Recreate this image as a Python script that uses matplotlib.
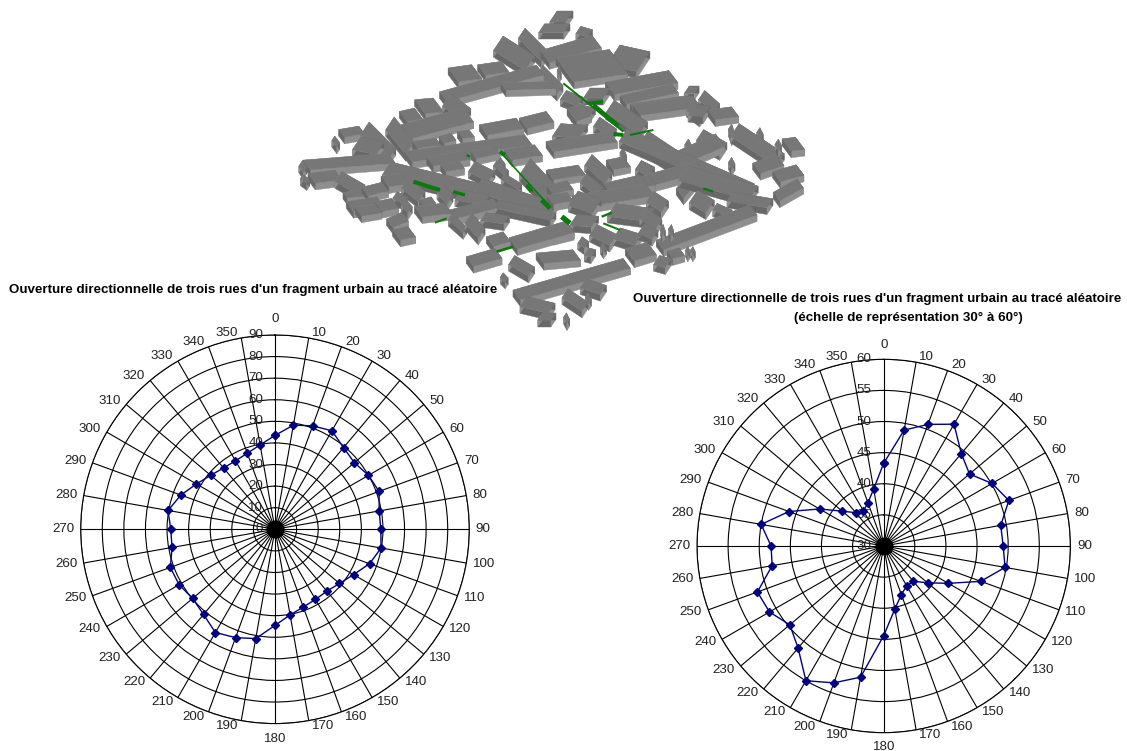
import math
import matplotlib
matplotlib.use('Agg')
import matplotlib.pyplot as plt

plt.rcParams['font.family'] = ['Liberation Sans', 'DejaVu Sans']

W, H = 1127, 751

# ------------------ DATA ------------------
angles = list(range(0, 360, 10))

left_ticks = [0, 10, 20, 30, 40, 50, 60, 70, 80, 90]
left_values = [43.5, 49, 51, 52.7, 49.4, 48, 50, 51.3, 49, 49, 49.9, 46.6,
               42, 39, 37.4, 37.5, 38.3, 40.3, 44.5, 51.4, 53.4, 55.2, 51.5, 49.8,
               51.3, 51.6, 48.4, 48.3, 50.3, 46.4, 42, 38.9, 37.1, 36.6, 37.5, 39.7]

right_ticks = [30, 35, 40, 45, 50, 55, 60]
right_values = [43.3, 48.9, 50.8, 52.6, 49.4, 48, 50.1, 51.4, 49.1, 49.2, 49.8, 46.6,
                42, 39.2, 37.4, 37.4, 38.3, 40.3, 44.4, 51.4, 53.4, 55, 51.4, 49.7,
                51.2, 51.6, 48.2, 48.1, 50, 46.2, 41.9, 38.7, 37, 36.5, 37.4, 39.3]

title_left = "Ouverture directionnelle de trois rues d'un fragment urbain au tracé aléatoire"
title_right = title_left
subtitle_right = "(échelle de représentation 30° à 60°)"

# city model: footprint segments x0, y0, x1, y1, width
west_blocks = [
    (300, 370, 360, 445, 35), (350, 395, 535, 345, 40), (340, 350, 385, 340, 30), (390, 320, 445, 315, 40),
    (470, 300, 530, 345, 35), (355, 470, 715, 420, 30), (375, 435, 445, 425, 20), (455, 420, 490, 410, 20),
    (510, 405, 545, 400, 20), (580, 390, 690, 370, 30), (700, 370, 780, 350, 30), (225, 385, 305, 465, 35),
    (200, 430, 270, 445, 35), (155, 400, 215, 390, 22), (130, 415, 145, 435, 12), (50, 495, 305, 475, 28),
    (32, 490, 45, 510, 15), (35, 530, 55, 545, 12), (65, 535, 145, 525, 28), (145, 530, 215, 570, 28),
    (165, 585, 215, 580, 15), (225, 575, 285, 560, 25), (180, 620, 270, 605, 28), (205, 635, 265, 625, 25),
    (265, 620, 315, 610, 28), (285, 545, 345, 535, 30), (345, 550, 395, 590, 28), (315, 585, 345, 600, 18),
    (340, 605, 360, 630, 18), (300, 670, 345, 650, 25), (320, 705, 365, 695, 30), (385, 635, 475, 625, 30),
    (395, 610, 430, 600, 18), (450, 565, 480, 600, 25), (290, 505, 560, 570, 35), (565, 555, 790, 630, 35),
    (505, 585, 590, 600, 28), (480, 645, 620, 610, 25), (620, 612, 790, 650, 22), (480, 650, 525, 690, 15),
    (535, 655, 575, 700, 28), (580, 650, 650, 660, 22), (600, 725, 650, 710, 28), (670, 730, 840, 680, 32),
    (540, 785, 625, 760, 28), (625, 480, 640, 500, 15), (420, 485, 530, 465, 25), (460, 505, 515, 495, 20),
    (545, 500, 605, 530, 28), (550, 465, 620, 450, 20), (615, 490, 650, 520, 15), (640, 530, 690, 560, 15),
    (655, 465, 745, 450, 30), (705, 500, 780, 580, 45),
]
east_blocks = [
    (800, 390, 880, 395, 35), (780, 440, 970, 410, 30), (845, 345, 890, 330, 35), (920, 365, 970, 400, 25),
    (960, 320, 1060, 385, 35), (1040, 330, 1220, 305, 30), (1205, 330, 1250, 335, 30), (1265, 345, 1335, 335, 28),
    (1335, 390, 1470, 480, 35), (1400, 505, 1470, 480, 30), (1490, 435, 1530, 430, 35), (1460, 530, 1530, 510, 30),
    (1460, 590, 1530, 550, 25), (1000, 405, 1380, 570, 35), (1060, 415, 1180, 495, 40), (1180, 470, 1290, 420, 35),
    (1230, 405, 1300, 445, 30), (1190, 425, 1200, 445, 15), (1320, 480, 1330, 500, 14), (1180, 520, 1390, 580, 40),
    (1320, 380, 1330, 410, 14), (1405, 390, 1415, 410, 13), (1460, 425, 1470, 445, 14), (1210, 590, 1260, 620, 35),
    (1275, 620, 1320, 640, 18), (1320, 590, 1440, 610, 25), (1110, 735, 1390, 630, 28), (1080, 540, 1230, 500, 30),
    (1170, 580, 1225, 515, 28), (1080, 590, 1125, 620, 30), (960, 565, 1085, 540, 28), (860, 605, 1080, 570, 35),
    (895, 480, 955, 535, 30), (960, 495, 1010, 485, 28), (1045, 495, 1085, 515, 25), (995, 450, 1005, 475, 14),
    (880, 535, 930, 575, 25), (950, 565, 1060, 540, 28), (780, 525, 875, 510, 28), (780, 570, 840, 555, 25),
    (780, 600, 840, 590, 25), (850, 595, 920, 620, 40), (965, 630, 1080, 645, 35), (1060, 640, 1105, 675, 30),
    (1055, 685, 1095, 705, 25), (910, 690, 970, 720, 30), (980, 700, 1045, 720, 30), (850, 660, 915, 665, 30),
    (780, 700, 840, 685, 30), (1115, 680, 1122, 700, 12), (1140, 680, 1147, 700, 12), (870, 720, 890, 735, 18),
    (890, 755, 910, 760, 20), (935, 735, 945, 750, 12), (1020, 765, 1085, 745, 35), (1100, 780, 1135, 790, 25),
    (1140, 765, 1175, 755, 22), (1190, 745, 1197, 760, 10), (1205, 745, 1212, 760, 10),
]
north_blocks = [
    (695, 100, 765, 170, 28), (765, 170, 920, 125, 35), (755, 85, 830, 85, 25), (790, 50, 838, 50, 30),
    (865, 90, 900, 100, 20), (625, 130, 720, 190, 40), (575, 210, 645, 200, 30), (490, 225, 560, 215, 40),
    (460, 290, 750, 210, 28), (750, 210, 810, 270, 25), (640, 260, 790, 255, 20), (825, 210, 985, 185, 70),
    (970, 165, 1060, 185, 55), (960, 265, 1150, 230, 35), (1000, 300, 1155, 265, 25), (1030, 325, 1200, 300, 25),
    (820, 285, 870, 305, 25), (890, 280, 950, 280, 28), (1200, 315, 1240, 345, 30), (1190, 270, 1220, 270, 20),
    (1235, 285, 1280, 325, 25), (805, 205, 810, 225, 10), (855, 330, 905, 340, 30),
]
south_blocks = [
    (680, 885, 1010, 790, 28), (700, 905, 785, 925, 28), (825, 880, 885, 920, 25), (750, 950, 790, 950, 20),
    (825, 945, 835, 965, 12), (880, 850, 940, 870, 25), (890, 885, 900, 905, 12), (750, 775, 860, 765, 30),
    (665, 780, 725, 815, 25), (635, 825, 650, 840, 12),
]
green_streets = [
    (820, 250, 1000, 395, 6), (910, 315, 985, 378, 13), (895, 310, 940, 305, 10), (1020, 405, 1090, 390, 6),
    (970, 402, 1000, 405, 12), (630, 455, 780, 620, 5), (370, 545, 450, 570, 12), (490, 575, 525, 585, 10),
    (435, 668, 470, 655, 6), (620, 755, 670, 740, 8), (935, 650, 965, 638, 7), (940, 670, 990, 690, 6),
    (1240, 565, 1270, 575, 7), (815, 650, 840, 670, 16), (710, 555, 725, 575, 12), (755, 600, 780, 625, 14),
    (630, 455, 645, 465, 12), (530, 465, 540, 470, 8),
]


# ------------------ HELPERS ------------------
def px_axes(x, y, w, h, **kw):
    return fig.add_axes([x / W, 1 - (y + h) / H, w / W, h / H], **kw)


def green_poly(x0, y0, x1, y1, width):
    length = math.hypot(x1 - x0, y1 - y0)
    nx, ny = -(y1 - y0) / length * width / 2, (x1 - x0) / length * width / 2
    return [(x0 + nx, y0 + ny), (x1 + nx, y1 + ny), (x1 - nx, y1 - ny), (x0 - nx, y0 - ny)]


def roof_poly(x0, y0, x1, y1, width):
    # buildings follow the two street directions of the oblique view
    half = width * 1.3 / 2
    if y1 < y0:
        ox, oy = 0.6 * half, 0.8 * half
    else:
        ox, oy = 0.55 * half, -0.83 * half
    return [(x0 - ox, y0 - oy), (x1 - ox, y1 - oy), (x1 + ox, y1 + oy), (x0 + ox, y0 + oy)]


def draw_block(ax, seg, height=20):
    roof = roof_poly(*seg)
    for i in range(4):
        a, b = roof[i], roof[(i + 1) % 4]
        light = (b[1] - a[1]) * (b[0] - a[0]) < 0
        ax.fill([a[0], b[0], b[0], a[0]], [a[1], b[1], b[1] + height, a[1] + height],
                color='#8e8e8e' if light else '#686868', lw=0.3)
    ax.fill([p[0] for p in roof], [p[1] for p in roof], color='#777777', lw=0.3)


def polar_chart(cx, cy, r, values, ticks, label_dist):
    ax = px_axes(cx - r, cy - r, 2 * r, 2 * r, projection='polar')
    ax.set_theta_zero_location('N')
    ax.set_theta_direction(-1)
    ax.set_ylim(ticks[0], ticks[-1])
    ax.set_thetagrids(angles, [''] * len(angles))
    ax.set_rgrids(ticks, [''] * len(ticks))
    ax.grid(True, color='black', lw=0.8)
    ax.spines['polar'].set_color('black')
    ax.spines['polar'].set_linewidth(0.8)
    for a in angles:
        th = math.radians(a)
        s, c = math.sin(th), math.cos(th)
        if a % 180 == 0:
            off = (0, label_dist * round(c))
            ha = 'center'
        else:
            off = (math.copysign(2.5 + 4 * abs(s), s), 5.5 * c)
            ha = 'left' if s > 0 else 'right'
        ax.annotate(str(a), (th, ticks[-1]), xytext=off, textcoords='offset pixels', ha=ha, va='center',
                    fontsize=9.6, color='#222222', annotation_clip=False)
    for v in ticks:
        ax.annotate(str(v), (0, v), xytext=(-12, 0), textcoords='offset pixels',
                    ha='right', va='center', fontsize=9.6, color='#222222', annotation_clip=False)
    th = [math.radians(a) for a in angles + angles[:1]]
    ax.plot(0, ticks[0], 'o', color='black', ms=12, clip_on=False, zorder=4)
    ax.plot(th, values + values[:1], color='#000080', lw=1.0, marker='D', ms=3.6, clip_on=False, zorder=5)
    return ax


# ------------------ PLOT ------------------
fig = plt.figure(figsize=(W / 100, H / 100), dpi=100, facecolor='white')

city = px_axes(290, 0, 520, 340)
city.set_xlim(0, 1560)
city.set_ylim(1020, 0)
city.axis('off')
blocks = west_blocks + east_blocks + north_blocks + south_blocks
for s in sorted(blocks, key=lambda b: (b[1] + b[3]) / 2):
    draw_block(city, s)
for s in green_streets:
    city.fill(*zip(*green_poly(*s)), color='#0a7a0a', lw=0)

polar_chart(275, 529.3, 194.3, left_values, left_ticks, 15.5)
polar_chart(883.7, 546, 186.7, right_values, right_ticks, 14)

fig.text(253 / W, 1 - 290 / H, title_left, ha='center', va='center', fontsize=9.67, fontweight='bold')
fig.text(877 / W, 1 - 299 / H, title_right, ha='center', va='center', fontsize=9.67, fontweight='bold')
fig.text(908 / W, 1 - 317.5 / H, subtitle_right, ha='center', va='center', fontsize=9.67, fontweight='bold')

fig.savefig('out.png', dpi=100)
